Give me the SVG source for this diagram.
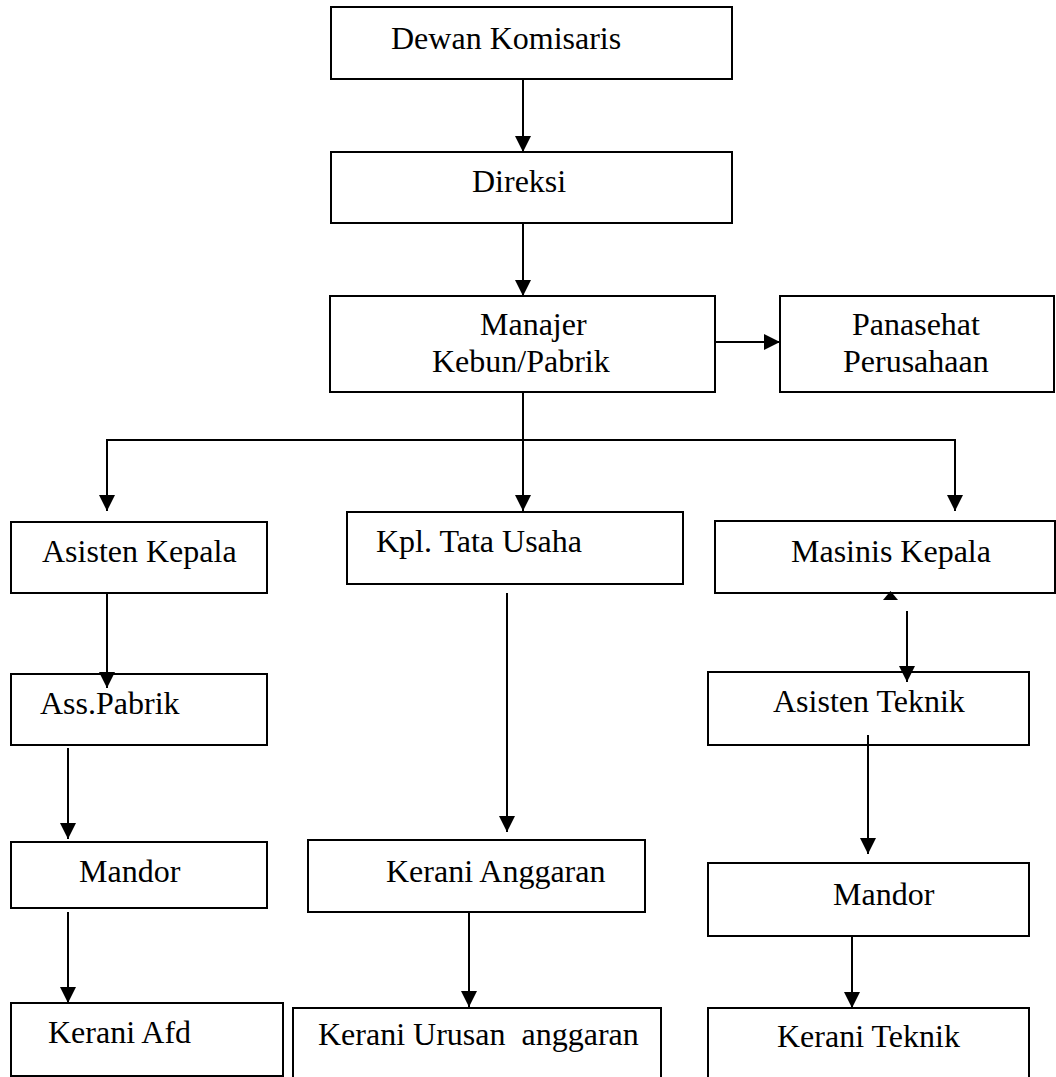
<svg xmlns="http://www.w3.org/2000/svg" width="1056" height="1077" viewBox="0 0 1056 1077">
<style>
.box{fill:#fff;stroke:#000;stroke-width:2}
.t{font-family:"Liberation Serif","Times New Roman",serif;font-size:32px;fill:#000}
.c{fill:none;stroke:#000;stroke-width:2}
</style>
<defs>
<marker id="ah" markerUnits="userSpaceOnUse" markerWidth="16" markerHeight="16" refX="16" refY="8" orient="auto">
<path d="M0,0 L16,8 L0,16 Z" fill="#000"/>
</marker>
</defs>
<rect width="1056" height="1077" fill="#fff"/>
<g id="nodes">
<g id="dewan"><rect class="box" x="331" y="7" width="401" height="72"/><text class="t" x="391" y="49">Dewan Komisaris</text></g>
<g id="direksi"><rect class="box" x="331" y="152" width="401" height="71"/><text class="t" x="472" y="192">Direksi</text></g>
<g id="manajer"><rect class="box" x="330" y="296" width="385" height="96"/><text class="t" x="480" y="335">Manajer</text><text class="t" x="432" y="372">Kebun/Pabrik</text></g>
<g id="panasehat"><rect class="box" x="780" y="296" width="274" height="96"/><text class="t" x="852" y="335">Panasehat</text><text class="t" x="843" y="372">Perusahaan</text></g>
<g id="asisten-kepala"><rect class="box" x="11" y="522" width="256" height="71"/><text class="t" x="42" y="562">Asisten Kepala</text></g>
<g id="kpl-tata-usaha"><rect class="box" x="347" y="512" width="336" height="72"/><text class="t" x="376" y="552">Kpl. Tata Usaha</text></g>
<g id="masinis-kepala"><rect class="box" x="715" y="521" width="340" height="72"/><text class="t" x="791" y="562">Masinis Kepala</text></g>
<g id="ass-pabrik"><rect class="box" x="11" y="674" width="256" height="71"/><text class="t" x="40" y="714">Ass.Pabrik</text></g>
<g id="asisten-teknik"><rect class="box" x="708" y="672" width="321" height="73"/><text class="t" x="773" y="712">Asisten Teknik</text></g>
<g id="mandor-1"><rect class="box" x="11" y="842" width="256" height="66"/><text class="t" x="79" y="882">Mandor</text></g>
<g id="kerani-anggaran"><rect class="box" x="308" y="840" width="337" height="72"/><text class="t" x="386" y="882">Kerani Anggaran</text></g>
<g id="mandor-2"><rect class="box" x="708" y="863" width="321" height="73"/><text class="t" x="833" y="905">Mandor</text></g>
<g id="kerani-afd"><rect class="box" x="11" y="1003" width="272" height="73"/><text class="t" x="48" y="1043">Kerani Afd</text></g>
<g id="kerani-urusan"><rect class="box" x="293" y="1008" width="368" height="80"/><text class="t" x="318" y="1045" xml:space="preserve">Kerani Urusan  anggaran</text></g>
<g id="kerani-teknik"><rect class="box" x="708" y="1008" width="321" height="80"/><text class="t" x="777" y="1047">Kerani Teknik</text></g>
</g>
<g id="connectors">
<line class="c" x1="523" y1="79" x2="523" y2="152" marker-end="url(#ah)"/>
<line class="c" x1="523" y1="223" x2="523" y2="296" marker-end="url(#ah)"/>
<line class="c" x1="715" y1="342" x2="780" y2="342" marker-end="url(#ah)"/>
<line class="c" x1="523" y1="392" x2="523" y2="511" marker-end="url(#ah)"/>
<polyline class="c" points="107,511 107,440 955,440 955,511"/>
<line class="c" x1="107" y1="440" x2="107" y2="511" marker-end="url(#ah)"/>
<line class="c" x1="955" y1="440" x2="955" y2="511" marker-end="url(#ah)"/>
<line class="c" x1="107" y1="593" x2="107" y2="688" marker-end="url(#ah)"/>
<line class="c" x1="68" y1="748" x2="68" y2="839" marker-end="url(#ah)"/>
<line class="c" x1="68" y1="912" x2="68" y2="1003" marker-end="url(#ah)"/>
<line class="c" x1="507" y1="593" x2="507" y2="832" marker-end="url(#ah)"/>
<line class="c" x1="469" y1="912" x2="469" y2="1007" marker-end="url(#ah)"/>
<path d="M883,600 L898,600 L890.5,591 Z" fill="#000"/>
<line class="c" x1="907" y1="611" x2="907" y2="682" marker-end="url(#ah)"/>
<line class="c" x1="868" y1="735" x2="868" y2="854" marker-end="url(#ah)"/>
<line class="c" x1="852" y1="936" x2="852" y2="1008" marker-end="url(#ah)"/>
</g>
</svg>
